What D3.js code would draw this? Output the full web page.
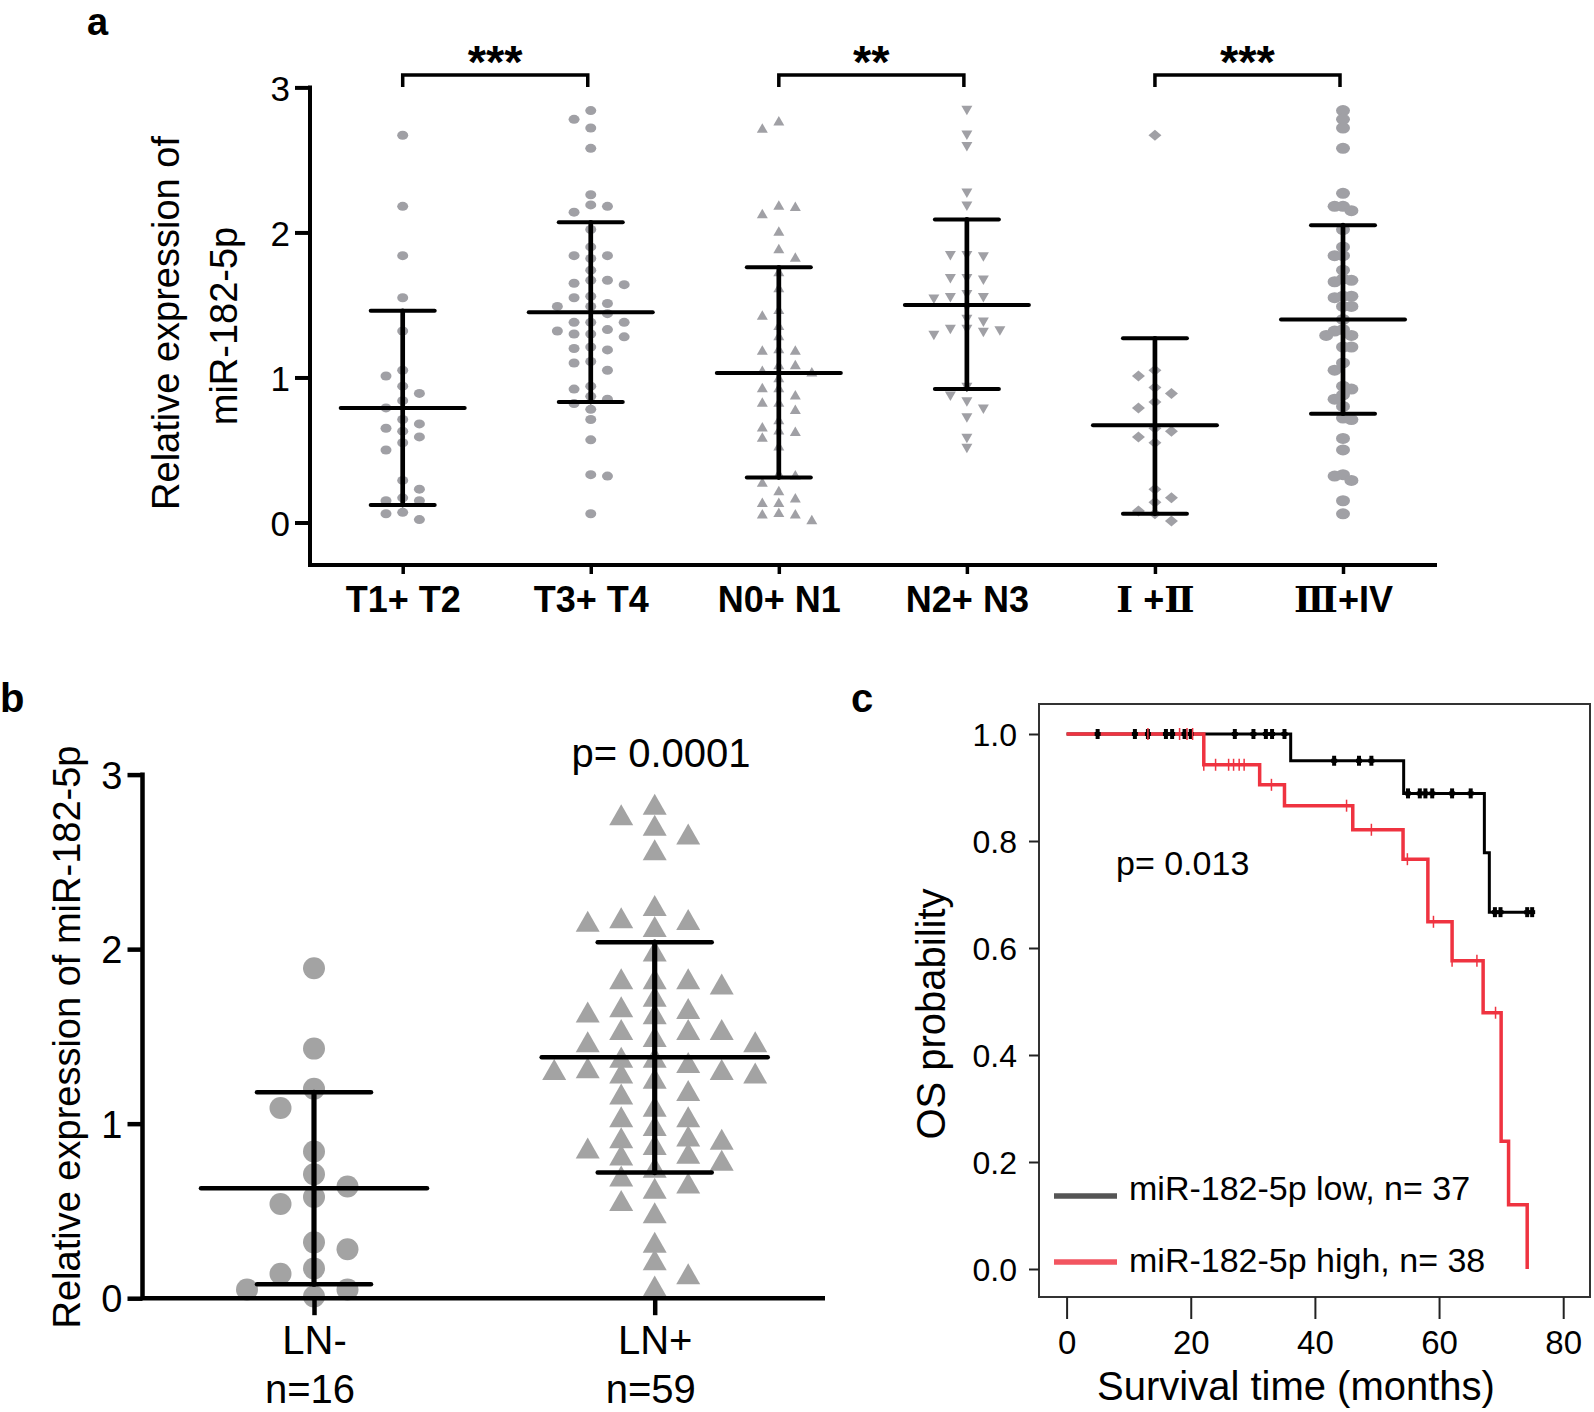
<!DOCTYPE html>
<html><head><meta charset="utf-8">
<script src="https://cdn.jsdelivr.net/npm/d3@7"></script>
<style>body{margin:0;background:#fff}text{font-family:"Liberation Sans",Arial,"Noto Sans CJK SC",sans-serif}.rn{font-family:"DejaVu Serif","Liberation Serif",serif}</style>
</head><body>
<svg id="chart" width="1594" height="1412"></svg>
<script>
// ---------------- DATA ----------------
// Panel a
const catsA = ["T1+ T2","T3+ T4","N0+ N1","N2+ N3","Ⅰ +Ⅱ","Ⅲ+IV"];
const t12 = [2.67,2.18,1.84,1.55,1.32,1.05,1.01,0.94,0.89,0.84,0.79,0.71,0.68,0.63,0.65,0.59,0.55,0.50,0.29,0.23,0.15,0.15,0.17,0.07,0.06,0.02];
const t34 = [2.84,2.78,2.72,2.58,2.26,2.19,2.18,2.14,2.02,1.90,1.84,1.84,1.82,1.74,1.67,1.64,1.65,1.67,1.55,1.56,1.51,1.49,1.49,1.44,1.38,1.38,1.38,1.32,1.33,1.30,1.30,1.28,1.20,1.19,1.21,1.11,1.10,1.05,0.94,0.92,0.87,0.85,0.82,0.78,0.71,0.57,0.33,0.32,0.06];
const n01 = [2.77,2.72,2.18,2.13,2.19,2.01,1.89,1.83,1.73,1.62,1.47,1.43,1.36,1.29,1.19,1.20,1.19,1.09,1.09,1.04,1.05,1.00,0.93,0.93,0.88,0.83,0.83,0.78,0.71,0.64,0.66,0.63,0.59,0.53,0.34,0.33,0.28,0.22,0.14,0.14,0.17,0.06,0.02,0.06,0.07];
const n23 = [2.84,2.67,2.59,2.27,2.18,1.84,1.83,1.84,1.68,1.67,1.68,1.57,1.55,1.54,1.55,1.48,1.40,1.38,1.33,1.31,1.29,1.32,1.33,0.93,0.87,0.83,0.78,0.72,0.58,0.51];
const s12 = [2.67,1.05,1.01,0.93,0.89,0.83,0.79,0.63,0.59,0.65,0.55,0.23,0.17,0.14,0.08,0.06,0.01];
const s34 = [2.84,2.78,2.72,2.58,2.27,2.18,2.18,2.15,2.02,1.90,1.84,1.84,1.74,1.68,1.67,1.66,1.56,1.56,1.55,1.49,1.49,1.40,1.33,1.32,1.29,1.29,1.21,1.21,1.10,1.05,0.94,0.92,0.85,0.88,0.80,0.72,0.71,0.58,0.50,0.33,0.32,0.29,0.15,0.06];
const meanA = [0.79,1.45,1.03,1.50,0.67,1.40];
const highA = [1.46,2.07,1.76,2.09,1.27,2.05];
const lowA  = [0.12,0.83,0.31,0.92,0.06,0.75];
const sigA  = ["***","**","***"];
const ticksA = [0,1,2,3];

// Panel b
const catsB = ["LN-","LN+"];
const countsB = ["n=16","n=59"];
const lnNeg = [1.89,1.43,1.20,1.09,0.84,0.71,0.64,0.54,0.58,0.32,0.28,0.17,0.14,0.05,0.05,0.01];
const lnPos = [2.83,2.77,2.71,2.66,2.57,2.25,2.17,2.13,2.16,2.18,1.99,1.83,1.80,1.83,1.83,1.73,1.66,1.63,1.64,1.67,1.54,1.47,1.54,1.54,1.47,1.50,1.38,1.38,1.35,1.32,1.31,1.29,1.26,1.29,1.31,1.19,1.17,1.04,1.04,1.10,0.99,0.92,0.93,0.88,0.83,0.79,0.82,0.86,0.91,0.75,0.66,0.70,0.63,0.56,0.49,0.32,0.22,0.14,0.07];
const meanB = [0.63,1.38];
const highB = [1.18,2.04];
const lowB  = [0.08,0.72];
const pTextB = "p= 0.0001";
const ticksB = [0,1,2,3];

// Panel c (Kaplan-Meier)
const kmLowT = [0,36.1,54.3,67.3,68.1,75.3];
const kmLowS = [1,0.95,0.889,0.778,0.667,0.667];
const censLowT = [5.0,11.0,13.1,16.0,17.0,19.0,20.0,27.1,30.1,32.1,33.1,35.1,43.1,47.1,49.1,55.0,56.9,57.8,58.9,62.1,65.1,69.0,69.9,74.2,75.0];
const kmHighT = [0,22.1,31.1,35.1,46.1,54.2,58.2,62.1,67.1,70.0,71.2,74.2];
const kmHighS = [1,0.9425,0.905,0.866,0.821,0.766,0.649,0.576,0.479,0.239,0.120,0.0];
const censHighT = [13.1,18.2,19.4,20.3,22.1,24.0,26.1,26.9,27.8,28.6,33.0,45.1,49.1,54.9,59.1,62.1,66.1,69.1];
const legendC = ["miR-182-5p low, n= 37","miR-182-5p high, n= 38"];
const pTextC = "p= 0.013";
const ticksCx = [0,20,40,60,80];
const ticksCy = [0,0.2,0.4,0.6,0.8,1.0];

// ---------------- HELPERS ----------------
const svg = d3.select("#chart");
svg.append("rect").attr("width",1594).attr("height",1412).attr("fill","#fff");

function swarm(values, yScale, slot, sep, maxSlot){
  const order = values.map((v,i)=>({v,i,y:yScale(v)})).sort((a,b)=>b.v-a.v);
  const placed = [], out = new Array(values.length);
  let flip = -1;
  order.forEach(p=>{
    let found = null;
    for(let m=0;m<=maxSlot && found===null;m++){
      const cands = m===0?[0]:[flip*m,-flip*m];
      for(const k of cands){
        if(!placed.some(q=>q.k===k && Math.abs(q.y-p.y)<sep)){found=k;break;}
      }
    }
    if(found===null){
      let best=-1;
      for(let k=-maxSlot;k<=maxSlot;k++){
        const c = d3.min(placed.filter(q=>q.k===k),q=>Math.abs(q.y-p.y)) ?? 1e9;
        if(c>best){best=c;found=k;}
      }
    }
    placed.push({y:p.y,k:found}); out[p.i]=found*slot; if(found!==0) flip=-flip;
  });
  return out;
}
function shapePath(shape,w,h){
  if(shape==="up") return `M0,${-h/2}L${w/2},${h/2}L${-w/2},${h/2}Z`;
  if(shape==="down") return `M0,${h/2}L${w/2},${-h/2}L${-w/2},${-h/2}Z`;
  if(shape==="diamond") return `M0,${-h/2}L${w/2},0L0,${h/2}L${-w/2},0Z`;
  return null;
}
function drawPoints(g, values, xc, yScale, st, color){
  const off = swarm(values, yScale, st.slot, st.sep, st.max);
  values.forEach((v,i)=>{
    const x = xc+off[i], y = yScale(v);
    if(st.shape==="ellipse"){
      g.append("ellipse").attr("cx",x).attr("cy",y).attr("rx",st.w/2).attr("ry",st.h/2).attr("fill",color);
    } else {
      g.append("path").attr("d",shapePath(st.shape,st.w,st.h)).attr("transform",`translate(${x},${y})`).attr("fill",color);
    }
  });
}
function drawStats(g,xc,yScale,mean,lo,hi,mw,cw,sw){
  const s = g.append("g").attr("stroke","#000").attr("stroke-width",sw).attr("stroke-linecap","round");
  s.append("line").attr("x1",xc).attr("x2",xc).attr("y1",yScale(lo)).attr("y2",yScale(hi)).attr("stroke-width",sw+0.7);
  s.append("line").attr("x1",xc-cw).attr("x2",xc+cw).attr("y1",yScale(lo)).attr("y2",yScale(lo));
  s.append("line").attr("x1",xc-cw).attr("x2",xc+cw).attr("y1",yScale(hi)).attr("y2",yScale(hi));
  s.append("line").attr("x1",xc-mw).attr("x2",xc+mw).attr("y1",yScale(mean)).attr("y2",yScale(mean));
}
function richLabel(sel){
  sel.each(function(d){
    const t = d3.select(this); const str = t.text(); t.text(null);
    const parts = str.match(/[\u2160-\u2188]+|[^\u2160-\u2188]+/g) || [];
    parts.forEach(p=>{
      const sp = t.append("tspan").text(p);
      if(/[\u2160-\u2188]/.test(p)) sp.attr("class","rn");
    });
  });
}

// ---------------- PANEL A ----------------
const gA = svg.append("g");
const yA = d3.scaleLinear().domain([0,3]).range([522.5,87.4]);
const xA = d3.scalePoint().domain(catsA).range([402.7,1343]);
const axLeftA = 310, axBotA = 565, axRightA = 1437;
const grayA = "#a0a0a5";
const stylesA = [
  {shape:"ellipse",w:11,h:9,slot:16.7,sep:10,max:4},
  {shape:"ellipse",w:11,h:9,slot:16.7,sep:10,max:4},
  {shape:"up",w:11,h:9.5,slot:16.5,sep:10,max:4},
  {shape:"down",w:11,h:9.5,slot:16.5,sep:10,max:4},
  {shape:"diamond",w:13,h:11,slot:16.5,sep:10,max:4},
  {shape:"ellipse",w:14,h:11,slot:8.4,sep:8,max:4}
];
[t12,t34,n01,n23,s12,s34].forEach((vals,i)=>drawPoints(gA,vals,xA(catsA[i]),yA,stylesA[i],grayA));
catsA.forEach((c,i)=>drawStats(gA,xA(c),yA,meanA[i],lowA[i],highA[i],62,32,4));

const yAxA = gA.append("g").attr("transform",`translate(${axLeftA},0)`)
  .call(d3.axisLeft(yA).tickValues(ticksA).tickSize(15).tickPadding(5).tickFormat(d3.format("d")));
yAxA.select(".domain").remove();
yAxA.selectAll(".tick line").attr("stroke","#000").attr("stroke-width",4);
yAxA.selectAll(".tick text").attr("font-size",35).attr("fill","#000").attr("dy","0.36em");
gA.append("path").attr("d",`M${axLeftA},${yA(3)-2}V${axBotA}H${axRightA}`).attr("fill","none").attr("stroke","#000").attr("stroke-width",4);
const xAxA = gA.append("g").attr("transform",`translate(0,${axBotA})`).call(d3.axisBottom(xA).tickSize(9));
xAxA.select(".domain").remove();
xAxA.selectAll(".tick line").attr("stroke","#000").attr("stroke-width",3.5);
xAxA.selectAll(".tick text").attr("font-size",36).attr("font-weight","bold").attr("fill","#000").attr("y",47).attr("dy",null).call(richLabel);

[[0,1],[2,3],[4,5]].forEach((p,i)=>{
  const x1 = xA(catsA[p[0]]), x2 = xA(catsA[p[1]]) - 3;
  gA.append("path").attr("d",`M${x1},87V75H${x2}V87`).attr("fill","none").attr("stroke","#000").attr("stroke-width",3.5);
  gA.append("text").attr("x",(x1+x2)/2).attr("y",78).attr("text-anchor","middle").attr("font-size",47).attr("font-weight","bold").text(sigA[i]);
});
gA.append("text").attr("transform","translate(179,323) rotate(-90)").attr("text-anchor","middle").attr("font-size",38).text("Relative expression of");
gA.append("text").attr("transform","translate(237,326) rotate(-90)").attr("text-anchor","middle").attr("font-size",38).text("miR-182-5p");
svg.append("text").attr("x",87).attr("y",35).attr("font-size",38).attr("font-weight","bold").text("a");

// ---------------- PANEL B ----------------
const gB = svg.append("g");
const yB = d3.scaleLinear().domain([0,3]).range([1298.2,774.6]);
const xB = d3.scalePoint().domain(catsB).range([314,654.7]);
const axLeftB = 142.5, axRightB = 825;
const grayB = "#a3a3a3";
const stylesB = [
  {shape:"ellipse",w:22,h:22,slot:33.5,sep:22,max:3},
  {shape:"up",w:24,h:21,slot:33.5,sep:17,max:3}
];
[lnNeg,lnPos].forEach((vals,i)=>drawPoints(gB,vals,xB(catsB[i]),yB,stylesB[i],grayB));
catsB.forEach((c,i)=>drawStats(gB,xB(c),yB,meanB[i],lowB[i],highB[i],113,57,4.5));

const yAxB = gB.append("g").attr("transform",`translate(${axLeftB},0)`)
  .call(d3.axisLeft(yB).tickValues(ticksB).tickSize(15).tickPadding(5).tickFormat(d3.format("d")));
yAxB.select(".domain").remove();
yAxB.selectAll(".tick line").attr("stroke","#000").attr("stroke-width",4.5);
yAxB.selectAll(".tick text").attr("font-size",38).attr("fill","#000").attr("dy","0.36em");
gB.append("path").attr("d",`M${axLeftB},${yB(3)-2}V${yB(0)}H${axRightB}`).attr("fill","none").attr("stroke","#000").attr("stroke-width",4.5);
const xAxB = gB.append("g").attr("transform",`translate(0,${yB(0)})`).call(d3.axisBottom(xB).tickSize(17));
xAxB.select(".domain").remove();
xAxB.selectAll(".tick line").attr("stroke","#000").attr("stroke-width",4.5);
xAxB.selectAll(".tick text").attr("font-size",40).attr("fill","#000").attr("y",56).attr("dy",null);
catsB.forEach((c,i)=>gB.append("text").attr("x",xB(c)-4).attr("y",1403).attr("text-anchor","middle").attr("font-size",40).text(countsB[i]));
gB.append("text").attr("x",661).attr("y",767).attr("text-anchor","middle").attr("font-size",40).text(pTextB);
gB.append("text").attr("transform","translate(80,1037) rotate(-90)").attr("text-anchor","middle").attr("font-size",38).text("Relative expression of miR-182-5p");
svg.append("text").attr("x",0).attr("y",712).attr("font-size",40).attr("font-weight","bold").text("b");

// ---------------- PANEL C ----------------
const gC = svg.append("g");
const xC = d3.scaleLinear().domain([0,80]).range([1066.6,1563.2]);
const yC = d3.scaleLinear().domain([0,1]).range([1269,734]);
const boxL = 1039, boxT = 704, boxR = 1590, boxB = 1297;
gC.append("rect").attr("x",boxL).attr("y",boxT).attr("width",boxR-boxL).attr("height",boxB-boxT).attr("fill","none").attr("stroke","#333").attr("stroke-width",2);
const xAxC = gC.append("g").attr("transform",`translate(0,${boxB})`).call(d3.axisBottom(xC).tickValues(ticksCx).tickSize(22).tickFormat(d3.format("d")));
xAxC.select(".domain").remove();
xAxC.selectAll(".tick line").attr("stroke","#222").attr("stroke-width",2);
xAxC.selectAll(".tick text").attr("font-size",33).attr("fill","#000").attr("y",57).attr("dy",null);
const yAxC = gC.append("g").attr("transform",`translate(${boxL},0)`).call(d3.axisLeft(yC).tickValues(ticksCy).tickSize(10).tickPadding(12).tickFormat(d3.format(".1f")));
yAxC.select(".domain").remove();
yAxC.selectAll(".tick line").attr("stroke","#222").attr("stroke-width",2);
yAxC.selectAll(".tick text").attr("font-size",32).attr("fill","#000").attr("dy","0.36em");

const step = d3.line().curve(d3.curveStepAfter).x(d=>xC(d[0])).y(d=>yC(d[1]));
const lowPts = kmLowT.map((t,i)=>[t,kmLowS[i]]);
const highPts = kmHighT.map((t,i)=>[t,kmHighS[i]]);
const redC = "#ef3340";
gC.append("path").attr("d",step(lowPts)).attr("fill","none").attr("stroke","#000").attr("stroke-width",3);
gC.append("path").attr("d",step(highPts)).attr("fill","none").attr("stroke",redC).attr("stroke-width",3.5);
function survAt(T,S,t){let s=S[0];for(let i=0;i<T.length;i++){if(T[i]<=t+1e-9)s=S[i];}return s;}
censLowT.forEach(t=>{
  const x=xC(t), y=yC(survAt(kmLowT,kmLowS,t));
  gC.append("line").attr("x1",x).attr("x2",x).attr("y1",y-5).attr("y2",y+5).attr("stroke","#000").attr("stroke-width",4);
  gC.append("line").attr("x1",x-3).attr("x2",x+3).attr("y1",y).attr("y2",y).attr("stroke","#000").attr("stroke-width",4);
});
censHighT.forEach(t=>{
  const x=xC(t), y=yC(survAt(kmHighT,kmHighS,t));
  gC.append("line").attr("x1",x).attr("x2",x).attr("y1",y-6).attr("y2",y+6).attr("stroke",redC).attr("stroke-width",1.5);
});
gC.append("text").attr("x",1116).attr("y",875).attr("font-size",34).text(pTextC);
gC.append("line").attr("x1",1054).attr("x2",1117).attr("y1",1196).attr("y2",1196).attr("stroke","#555").attr("stroke-width",5.5);
gC.append("text").attr("x",1129).attr("y",1200).attr("font-size",34).text(legendC[0]);
gC.append("line").attr("x1",1054).attr("x2",1117).attr("y1",1262).attr("y2",1262).attr("stroke","#f25560").attr("stroke-width",5.5);
gC.append("text").attr("x",1129).attr("y",1272).attr("font-size",34).text(legendC[1]);
gC.append("text").attr("x",1296).attr("y",1400).attr("text-anchor","middle").attr("font-size",40).text("Survival time (months)");
gC.append("text").attr("transform","translate(945,1014) rotate(-90)").attr("text-anchor","middle").attr("font-size",40).text("OS probability");
svg.append("text").attr("x",851).attr("y",712).attr("font-size",40).attr("font-weight","bold").text("c");
</script>
</body></html>
